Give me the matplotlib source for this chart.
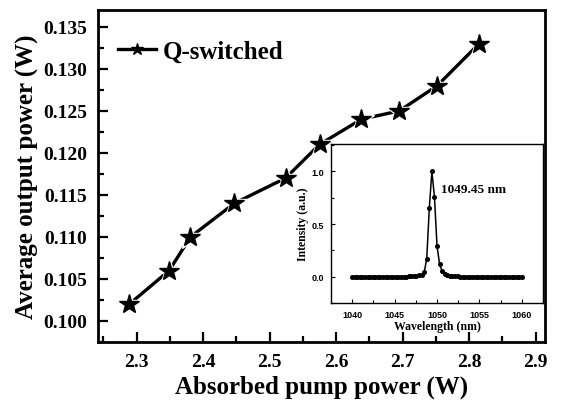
import numpy as np
import matplotlib
matplotlib.use('Agg')
import matplotlib.pyplot as plt
from matplotlib.ticker import MultipleLocator

# Main data: Q-switched output vs absorbed pump power
pump_power = [2.289, 2.349, 2.381, 2.447, 2.524, 2.575, 2.638, 2.695, 2.752, 2.815]
output_power = [0.102, 0.106, 0.110, 0.114, 0.117, 0.121, 0.124, 0.125, 0.128, 0.133]

# Inset data: emission spectrum
wl_start, wl_stop, n_wl = 1040.0, 1060.0, 67
intensity = [0.0, 0.0, 0.0, 0.0, 0.0, 0.0, 0.0, 0.0, 0.0, 0.0,
             0.0, 0.0, 0.0, 0.0, 0.0, 0.0, 0.0, 0.0, 0.0, 0.0,
             0.0, 0.0, 0.002, 0.003, 0.005, 0.008, 0.012, 0.02, 0.04, 0.17,
             0.65, 1.0, 0.76, 0.29, 0.12, 0.05, 0.025, 0.015, 0.01, 0.006,
             0.004, 0.002, 0.0, 0.0, 0.0, 0.0, 0.0, 0.0, 0.0, 0.0,
             0.0, 0.0, 0.0, 0.0, 0.0, 0.0, 0.0, 0.0, 0.0, 0.0,
             0.0, 0.0, 0.0, 0.0, 0.0, 0.0, 0.0]
wavelength = np.linspace(wl_start, wl_stop, n_wl)

serif = 'Liberation Serif'
sans = 'Liberation Sans'

fig = plt.figure(figsize=(5.61, 4.02), dpi=100)
ax = fig.add_axes([0.1747, 0.1468, 0.9715 - 0.1747, 0.9726 - 0.1468])

# line + stars with a white halo so the line stops short of the markers
line, = ax.plot(pump_power, output_power, '-', color='black', lw=2.4,
                marker='*', ms=15, zorder=2)
ax.plot(pump_power, output_power, '*', color='white', ms=20, zorder=3)
ax.plot(pump_power, output_power, '*', color='black', ms=15, zorder=4)

ax.set_xlim(2.242, 2.914)
ax.set_ylim(0.0975, 0.137)
ax.xaxis.set_major_locator(MultipleLocator(0.1))
ax.xaxis.set_minor_locator(MultipleLocator(0.05))
ax.yaxis.set_major_locator(MultipleLocator(0.005))
ax.yaxis.set_minor_locator(MultipleLocator(0.0025))
ax.xaxis.set_major_formatter(matplotlib.ticker.FormatStrFormatter('%.1f'))
ax.yaxis.set_major_formatter(matplotlib.ticker.FormatStrFormatter('%.3f'))
ax.tick_params(which='both', direction='in', top=False, right=False, width=1.6)
ax.tick_params(which='major', length=7, labelsize=14, pad=8)
ax.tick_params(which='minor', length=4)
for lab in ax.get_xticklabels() + ax.get_yticklabels():
    lab.set_fontfamily(serif)
    lab.set_fontweight('bold')
for sp in ax.spines.values():
    sp.set_linewidth(2)

ax.set_xlabel('Absorbed pump power (W)', fontsize=18, fontweight='bold',
              fontfamily=serif, labelpad=3)
ax.set_ylabel('Average output power (W)', fontsize=18, fontweight='bold',
              fontfamily=serif, labelpad=3)

leg = ax.legend([line], ['Q-switched'], loc='upper left', frameon=False,
                prop={'family': serif, 'weight': 'bold', 'size': 18},
                handlelength=1.5, handletextpad=0.3, markerscale=0.6,
                borderaxespad=0.4, bbox_to_anchor=(0.0, 0.97))

# inset spectrum
ins = fig.add_axes([0.590, 0.2438, 0.378, 0.3955])
ins.set_zorder(5)
ins.plot(wavelength, intensity, '-', color='black', lw=1.1,
         marker='o', ms=2.6)
ins.set_xlim(1037.5, 1062.5)
ins.set_ylim(-0.25, 1.26)
ins.xaxis.set_major_locator(MultipleLocator(5))
ins.xaxis.set_minor_locator(MultipleLocator(2.5))
ins.yaxis.set_major_locator(MultipleLocator(0.5))
ins.yaxis.set_minor_locator(MultipleLocator(0.25))
ins.tick_params(which='both', direction='in', width=0.8, labelsize=6.5, pad=5)
ins.tick_params(which='major', length=3)
ins.tick_params(which='minor', length=2)
for lab in ins.get_xticklabels() + ins.get_yticklabels():
    lab.set_fontfamily(sans)
    lab.set_fontweight('bold')
for sp in ins.spines.values():
    sp.set_linewidth(1.0)
ins.set_xlabel('Wavelength (nm)', fontsize=8.5, fontweight='bold',
               fontfamily=serif, labelpad=1)
ins.set_ylabel('Intensity (a.u.)', fontsize=8.5, fontweight='bold',
               fontfamily=serif, labelpad=2)
ins.text(1050.45, 0.836, '1049.45 nm', fontsize=9.5, fontweight='bold',
         fontfamily=serif, ha='left', va='center')

fig.savefig('out.png', dpi=100)
